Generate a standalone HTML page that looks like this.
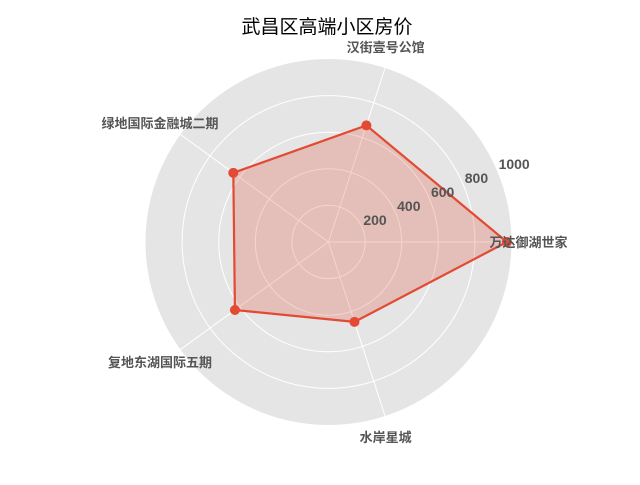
<!DOCTYPE html>
<html><head><meta charset="utf-8"><style>
body{margin:0;background:#fff;}
svg text{font-family:"Liberation Sans","Noto Sans CJK SC",sans-serif;}
</style></head><body>
<svg id="chart" width="640" height="480" viewBox="0 0 640 480" xmlns="http://www.w3.org/2000/svg">
<text x="327" y="33" text-anchor="middle" font-size="19" fill="#000">武昌区高端小区房价</text>
</svg>
<script>
const categories = ["万达御湖世家","汉街壹号公馆","绿地国际金融城二期","复地东湖国际五期","水岸星城"];
const values = [975, 670, 643, 632, 459];
const rTicks = [200, 400, 600, 800, 1000];
const rMax = 1000;

const NS = "http://www.w3.org/2000/svg";
const svg = document.getElementById('chart');
const cx = 328.5, cy = 242, R = 183;
function rScale(v){ return v / rMax * R; }
function angleOf(i){ return i * 2 * Math.PI / categories.length; }
function pt(i, v){ const a = angleOf(i), r = rScale(v); return [cx + r*Math.cos(a), cy - r*Math.sin(a)]; }
function mk(tag, attrs){ const e = document.createElementNS(NS, tag); for (const k in attrs) e.setAttribute(k, attrs[k]); svg.appendChild(e); return e; }

const bg = mk('circle', {cx:cx, cy:cy, r:R, fill:'#e5e5e5'});



rTicks.forEach(t => {
  if (t >= rMax) return;
  const c = mk('circle', {cx:cx, cy:cy, r:rScale(t), fill:'none', stroke:'#fff', 'stroke-width':1});
  
  
});
categories.forEach((c, i) => {
  const [x, y] = pt(i, rMax);
  const l = mk('line', {x1:cx, y1:cy, x2:x, y2:y, stroke:'#fff', 'stroke-width':1});
  
  
});

const pts = values.map((v, i) => pt(i, v));
const poly = mk('polygon', {points: pts.map(p => p.join(',')).join(' '), fill:'rgba(226,74,51,0.25)', stroke:'#E24A33', 'stroke-width':2.2, 'stroke-linejoin':'round'});



pts.forEach(p => {
  const m = mk('circle', {cx:p[0], cy:p[1], r:5, fill:'#E24A33'});
  
  
});

const la = 22.5 * Math.PI / 180;
rTicks.forEach(t => {
  const r = rScale(t);
  const tx = mk('text', {x: cx + r*Math.cos(la) + 1, y: cy - r*Math.sin(la) - 3, 'font-size':14, 'font-weight':'bold', fill:'#555'});
  tx.textContent = t;
  
  
});

categories.forEach((c, i) => {
  const a = angleOf(i);
  const r = R + 18;
  let x = cx + r*Math.cos(a), y = cy - r*Math.sin(a);
  let anchor = 'middle';
  if (i === 0) { x = cx + R - 22; anchor = 'start'; }
  if (i === 1) { x -= 5; y -= 4; }
  if (i === 4) { x -= 5; y += 4; }
  if (i === 2) { x = 160; y = 123; }
  if (i === 3) { x = 160; y = 362; }
  const tx = mk('text', {x:x, y:y + 5, 'text-anchor':anchor, 'font-size':13, 'font-weight':'bold', fill:'#555'});
  tx.textContent = c;
  
  
});
</script>
</body></html>
